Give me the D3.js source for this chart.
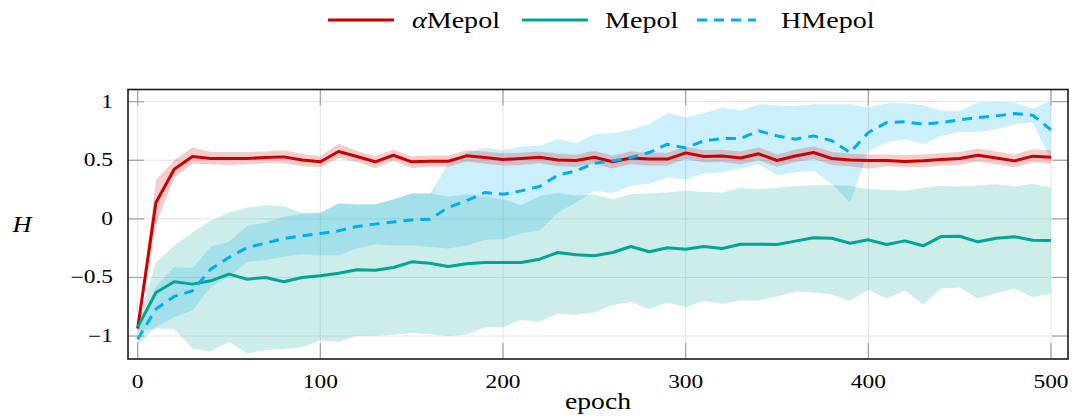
<!DOCTYPE html>
<html>
<head>
<meta charset="utf-8">
<script src="https://cdn.jsdelivr.net/npm/d3@7"></script>
<style>
  html, body { margin: 0; padding: 0; background: #fff; }
  svg { display: block; }
  text { font-family: "Liberation Serif", "DejaVu Serif", serif; fill: #000; }
</style>
</head>
<body>
<svg id="chart" width="1075" height="419"></svg>
<script>
// Training epochs (x values)
const epochs = [0,10,20,30,40,50,60,70,80,90,100,110,120,130,140,150,160,170,180,190,200,
  210,220,230,240,250,260,270,280,290,300,310,320,330,340,350,360,370,380,390,400,
  410,420,430,440,450,460,470,480,490,500];

// αMepol: mean entropy and band
const alphaMean = [-0.935,0.14,0.424,0.532,0.515,0.515,0.515,0.524,0.529,0.503,0.487,0.575,0.532,0.487,0.543,0.487,0.492,0.492,0.538,0.524,0.507,
  0.515,0.526,0.503,0.498,0.526,0.487,0.52,0.51,0.51,0.563,0.532,0.537,0.52,0.555,0.498,0.537,0.566,0.515,0.503,0.498,
  0.498,0.49,0.495,0.506,0.515,0.543,0.52,0.495,0.535,0.526];
const alphaHigh = [-0.91,0.33,0.5,0.61,0.57,0.57,0.57,0.575,0.585,0.555,0.535,0.64,0.58,0.535,0.59,0.535,0.54,0.54,0.585,0.575,0.56,
  0.565,0.575,0.555,0.55,0.58,0.54,0.575,0.565,0.565,0.615,0.585,0.59,0.575,0.61,0.55,0.59,0.62,0.57,0.555,0.55,
  0.55,0.545,0.55,0.56,0.57,0.6,0.575,0.55,0.595,0.585];
const alphaLow = [-0.96,-0.05,0.35,0.47,0.465,0.46,0.465,0.475,0.475,0.45,0.44,0.52,0.485,0.435,0.495,0.435,0.445,0.445,0.49,0.47,0.455,
  0.46,0.475,0.45,0.445,0.47,0.43,0.465,0.455,0.455,0.51,0.48,0.485,0.465,0.5,0.445,0.485,0.51,0.46,0.45,0.43,
  0.45,0.44,0.44,0.455,0.46,0.49,0.465,0.44,0.48,0.47];

// Mepol
const mepolMean = [-0.924,-0.628,-0.537,-0.557,-0.529,-0.472,-0.515,-0.5,-0.537,-0.5,-0.485,-0.465,-0.435,-0.438,-0.415,-0.367,-0.378,-0.406,-0.384,-0.373,-0.373,
  -0.373,-0.344,-0.287,-0.307,-0.315,-0.287,-0.236,-0.281,-0.247,-0.259,-0.236,-0.253,-0.216,-0.216,-0.219,-0.19,-0.162,-0.165,-0.208,-0.179,
  -0.219,-0.188,-0.23,-0.15,-0.148,-0.196,-0.165,-0.153,-0.182,-0.185];
const mepolHigh = [-0.9,-0.372,-0.23,-0.116,-0.017,0.055,0.097,0.117,0.11,0.05,0.055,0.134,0.126,0.126,0.168,0.219,0.219,0.19,0.21,0.19,0.168,
  0.117,0.196,0.22,0.2,0.205,0.168,0.21,0.219,0.225,0.239,0.23,0.225,0.265,0.253,0.265,0.282,0.287,0.287,0.282,0.253,
  0.247,0.239,0.265,0.282,0.276,0.287,0.296,0.276,0.3,0.265];
const mepolLow = [-0.96,-0.935,-0.94,-1.106,-1.13,-1.05,-1.15,-1.12,-1.11,-1.097,-1.035,-1.05,-0.998,-0.998,-0.99,-0.975,-0.985,-1.0,-0.99,-0.924,-0.924,
  -0.864,-0.878,-0.807,-0.818,-0.799,-0.736,-0.708,-0.77,-0.714,-0.752,-0.702,-0.725,-0.697,-0.697,-0.662,-0.623,-0.628,-0.645,-0.702,-0.605,
  -0.679,-0.611,-0.728,-0.594,-0.585,-0.679,-0.634,-0.594,-0.668,-0.639];

// HMepol
const hmepolMean = [-1.027,-0.77,-0.662,-0.614,-0.429,-0.329,-0.244,-0.207,-0.167,-0.145,-0.125,-0.102,-0.065,-0.045,-0.026,-0.009,-0.003,0.097,0.154,0.225,0.21,
  0.239,0.276,0.373,0.41,0.475,0.495,0.524,0.566,0.637,0.605,0.666,0.686,0.686,0.751,0.708,0.68,0.708,0.666,0.566,0.737,
  0.822,0.828,0.808,0.822,0.845,0.865,0.879,0.899,0.885,0.76];
const hmepolHigh = [-0.93,-0.58,-0.41,-0.42,-0.239,-0.196,-0.06,-0.035,0.017,0.045,0.05,0.13,0.12,0.12,0.165,0.215,0.215,0.467,0.566,0.609,0.586,
  0.617,0.623,0.68,0.646,0.723,0.73,0.76,0.808,0.902,0.865,0.902,0.95,0.922,0.979,0.97,0.96,0.979,0.979,0.979,0.95,
  0.987,0.987,0.97,0.922,0.922,0.993,0.999,0.993,0.94,1.007];
const hmepolLow = [-1.078,-0.92,-0.84,-0.78,-0.58,-0.495,-0.367,-0.352,-0.324,-0.301,-0.31,-0.31,-0.253,-0.216,-0.228,-0.228,-0.24,-0.253,-0.228,-0.179,-0.173,
  -0.122,-0.102,0.055,0.14,0.24,0.219,0.282,0.3,0.353,0.339,0.39,0.396,0.43,0.465,0.373,0.396,0.41,0.3,0.14,0.58,
  0.652,0.68,0.638,0.708,0.742,0.742,0.765,0.808,0.822,0.5];

// Axis ticks
const xTicks = [0, 100, 200, 300, 400, 500];
const yTicks = [-1, -0.5, 0, 0.5, 1];

const series = [
  { name: "Mepol", prefix: "α", color: "#cc0000", mean: alphaMean, low: alphaLow, high: alphaHigh, dash: null },
  { name: "Mepol", prefix: "",  color: "#00a693", mean: mepolMean, low: mepolLow, high: mepolHigh, dash: null },
  { name: "HMepol", prefix: "", color: "#00aeef", mean: hmepolMean, low: hmepolLow, high: hmepolHigh, dash: "10,7" }
];

const svg = d3.select("#chart");
const L = 128, R = 1068, T = 89.5, B = 359;

const x = d3.scaleLinear().domain([-5.3, 509.3]).range([L, R]);
const y = d3.scaleLinear().domain([-1.196, 1.104]).range([B, T]);

// helper: horizontally widened text
function label(g, px, py, str, size, sx, anchor, italic) {
  return g.append("text")
    .attr("transform", `translate(${px},${py}) scale(${sx},1)`)
    .attr("text-anchor", anchor)
    .attr("font-size", size)
    .attr("font-style", italic ? "italic" : null)
    .text(str);
}

svg.append("defs").append("clipPath").attr("id", "plotClip")
  .append("rect").attr("x", L).attr("y", T).attr("width", R - L).attr("height", B - T);

// grid
const grid = svg.append("g");
grid.selectAll("line.vx").data(xTicks).join("line")
  .attr("x1", d => x(d)).attr("x2", d => x(d)).attr("y1", T).attr("y2", B)
  .attr("stroke", "#e6e6e6").attr("stroke-width", 1);
grid.selectAll("line.hy").data(yTicks).join("line")
  .attr("y1", d => y(d)).attr("y2", d => y(d)).attr("x1", L).attr("x2", R)
  .attr("stroke", "#e6e6e6").attr("stroke-width", 1);

// bands
const plot = svg.append("g").attr("clip-path", "url(#plotClip)");
const bandOrder = [series[1], series[2], series[0]];
bandOrder.forEach(s => {
  const area = d3.area()
    .x((d, i) => x(epochs[i]))
    .y0((d, i) => y(s.low[i]))
    .y1((d, i) => y(s.high[i]));
  plot.append("path").datum(s.mean).attr("d", area)
    .attr("fill", s.color).attr("fill-opacity", 0.2).attr("stroke", "none");
});

// lines
series.forEach(s => {
  const line = d3.line().x((d, i) => x(epochs[i])).y(d => y(d));
  plot.append("path").datum(s.mean).attr("d", line)
    .attr("fill", "none").attr("stroke", s.color).attr("stroke-width", 3)
    .attr("stroke-linejoin", "round")
    .attr("stroke-dasharray", s.dash);
});

// tick marks (inside, all four sides)
const ticks = svg.append("g").attr("stroke", "#a0a0a0").attr("stroke-width", 1.2);
const tl = 16;
xTicks.forEach(d => {
  ticks.append("line").attr("x1", x(d)).attr("x2", x(d)).attr("y1", B).attr("y2", B - tl);
  ticks.append("line").attr("x1", x(d)).attr("x2", x(d)).attr("y1", T).attr("y2", T + tl);
});
yTicks.forEach(d => {
  ticks.append("line").attr("y1", y(d)).attr("y2", y(d)).attr("x1", L).attr("x2", L + tl);
  ticks.append("line").attr("y1", y(d)).attr("y2", y(d)).attr("x1", R).attr("x2", R - tl);
});

// frame
svg.append("rect").attr("x", L).attr("y", T).attr("width", R - L).attr("height", B - T)
  .attr("fill", "none").attr("stroke", "#1a1a1a").attr("stroke-width", 1.6);

// tick labels
const fmt = d => (d < 0 ? "\u2212" : "") + Math.abs(d);
const labels = svg.append("g");
xTicks.forEach(d => label(labels, x(d), 388, fmt(d), 18, 1.3, "middle"));
yTicks.forEach(d => label(labels, 113, y(d) + 6, fmt(d), 18, 1.3, "end"));

// axis titles
label(labels, 598, 409, "epoch", 23, 1.2, "middle");
label(labels, 22, 232, "H", 24, 1.1, "middle", true);

// legend
const legend = svg.append("g");
const legendItems = [
  { s: series[0], x0: 328, x1: 394, tx: 412 },
  { s: series[1], x0: 522, x1: 588, tx: 605 },
  { s: series[2], x0: 697, x1: 756, tx: 781 }
];
legendItems.forEach(it => {
  legend.append("line").attr("x1", it.x0).attr("x2", it.x1).attr("y1", 20).attr("y2", 20)
    .attr("stroke", it.s.color).attr("stroke-width", 3)
    .attr("stroke-dasharray", it.s.dash);
  const t = label(legend, it.tx, 28, "", 23, 1.22, "start").text(null);
  if (it.s.prefix) t.append("tspan").attr("font-style", "italic").text(it.s.prefix);
  t.append("tspan").text(it.s.name);
});
</script>
</body>
</html>
